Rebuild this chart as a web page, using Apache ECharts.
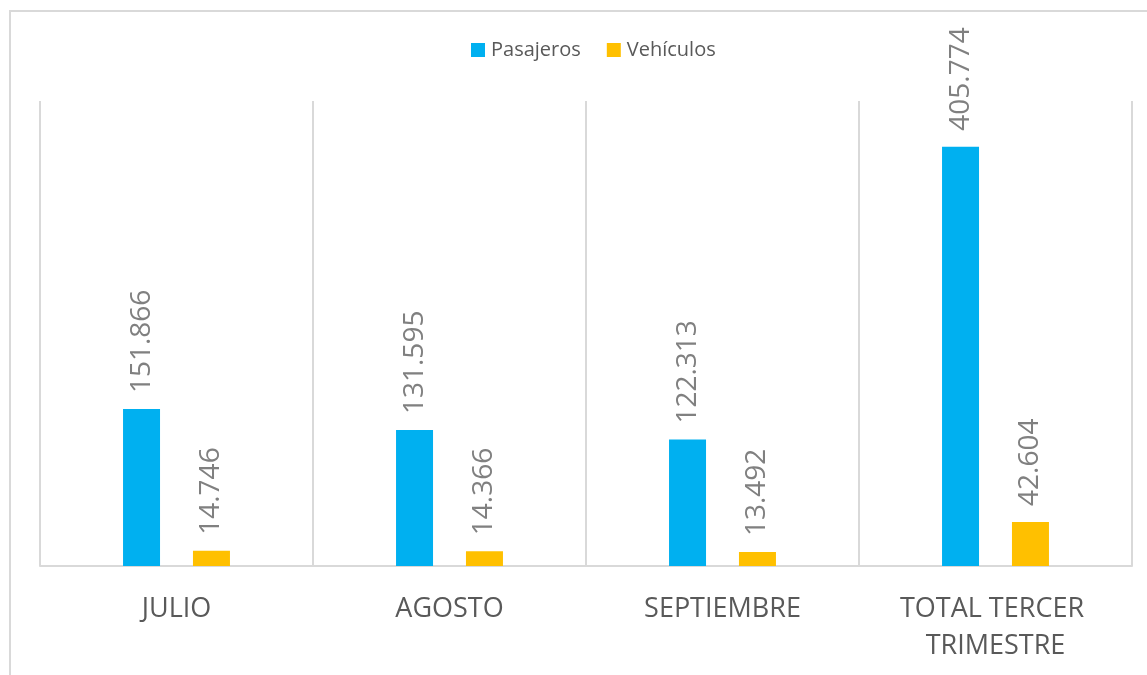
<!DOCTYPE html>
<html>
<head>
<meta charset="utf-8">
<script src="https://cdn.jsdelivr.net/npm/echarts@6/dist/echarts.min.js"></script>
<style>
  html, body { margin: 0; padding: 0; background: #fff; }
  #chart { width: 1147px; height: 675px; }
</style>
</head>
<body>
<div id="chart"></div>
<script>
const categories = ['JULIO', 'AGOSTO', 'SEPTIEMBRE', 'TOTAL TERCER TRIMESTRE']
const pasajeros = [151866, 131595, 122313, 405774]
const vehiculos = [14746, 14366, 13492, 42604]

// 151866 -> "151.866"
const fmt = (v) => String(v).replace(/\B(?=(\d{3})+(?!\d))/g, '.')

const valueLabel = {
  show: true,
  position: 'top',
  rotate: 90,
  align: 'left',
  verticalAlign: 'middle',
  distance: 16,
  fontFamily: 'Open Sans',
  fontSize: 28,
  color: '#808080',
  formatter: (p) => fmt(p.value)
}

const chart = echarts.init(document.getElementById('chart'))
chart.setOption({
  animation: false,
  textStyle: { fontFamily: 'Open Sans' },
  graphic: [
    {
      type: 'rect',
      shape: { x: 10, y: 11, width: 1200, height: 700 },
      style: { fill: 'none', stroke: '#d9d9d9', lineWidth: 2 },
      silent: true
    }
  ],
  legend: {
    top: 35,
    left: 466,
    itemWidth: 14,
    itemHeight: 14,
    itemGap: 26,
    icon: 'rect',
    textStyle: { fontSize: 20, color: '#595959', padding: [0, 0, 0, 1] },
    data: ['Pasajeros', 'Vehículos']
  },
  grid: {
    left: 40,
    right: 15,
    top: 101,
    bottom: 109
  },
  xAxis: {
    type: 'category',
    data: categories,
    axisLine: { lineStyle: { color: '#d9d9d9', width: 2 } },
    axisTick: { show: false },
    splitLine: { show: true, lineStyle: { color: '#d9d9d9', width: 2 } },
    axisLabel: {
      interval: 0,
      margin: 25,
      fontSize: 27,
      color: '#595959',
      lineHeight: 37,
      width: 250,
      overflow: 'break'
    }
  },
  yAxis: {
    type: 'value',
    min: 0,
    max: 450000,
    show: false,
    splitLine: { show: false }
  },
  series: [
    {
      name: 'Pasajeros',
      type: 'bar',
      data: pasajeros,
      barWidth: 37,
      barGap: '89%',
      itemStyle: { color: '#00b0f0' },
      label: valueLabel
    },
    {
      name: 'Vehículos',
      type: 'bar',
      data: vehiculos,
      barWidth: 37,
      itemStyle: { color: '#ffc000' },
      label: valueLabel
    }
  ]
})
</script>
</body>
</html>
